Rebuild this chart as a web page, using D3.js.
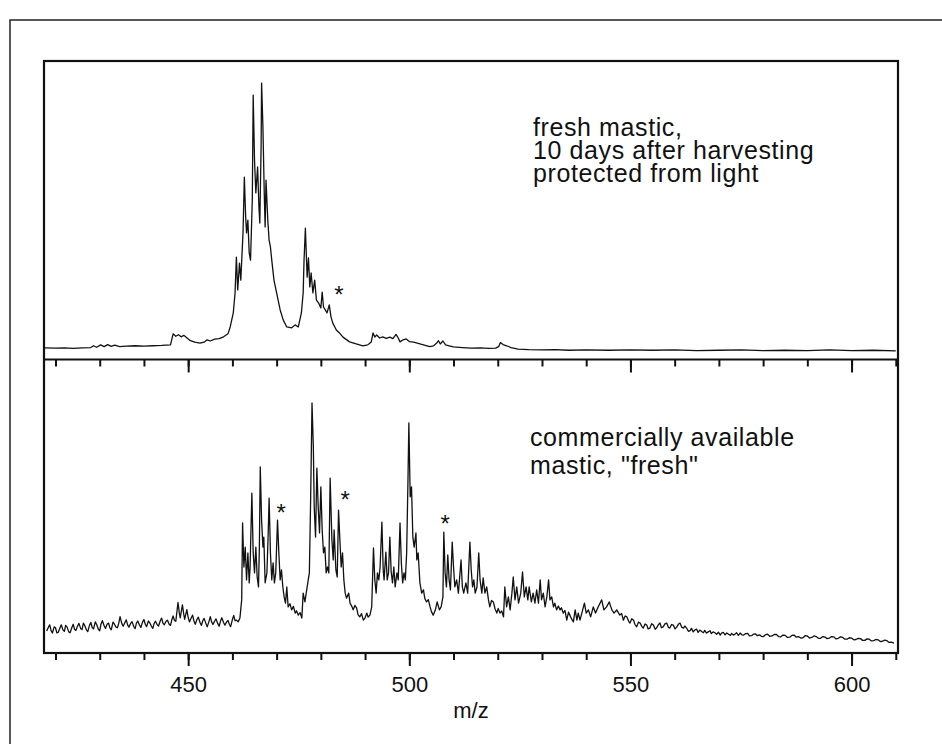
<!DOCTYPE html>
<html>
<head>
<meta charset="utf-8">
<script src="https://cdn.jsdelivr.net/npm/d3@7/dist/d3.min.js"></script>
<style>
    body { margin: 0; background: #fff; }
    text { font-family: "Liberation Sans", Arial, Helvetica, sans-serif; fill: #111; }
</style>
</head>
<body>
<div id="chart"></div>
<script>
// m/z tick positions
let mzTicks = [420, 430, 440, 450, 460, 470, 480, 490, 500, 510, 520, 530, 540, 550, 560, 570, 580, 590, 600, 610];
let mzLabels = [450, 500, 550, 600];

// [m/z, relative intensity], upper trace
let freshSpectrum = [
    [417.6, 3.9], [420, 3.8], [422, 3.9], [424, 3.7], [426, 3.9], [428, 4.0], [428.6, 4.6], [429.3, 4.1], [430.2, 4.9],
    [431, 4.3], [431.8, 5.0], [432.6, 4.4], [433.4, 4.8], [434.5, 4.3], [436, 4.5], [438, 4.6], [440, 4.5], [442, 4.6],
    [444, 4.7], [446, 4.9], [446.6, 8.6], [447.2, 7.8], [447.8, 8.3], [448.4, 7.6], [449, 8.1], [449.6, 7.4], [450.5, 6.3],
    [451.5, 5.8], [452.7, 5.5], [453.6, 5.8], [454.3, 6.6], [455, 6.2], [456, 6.8], [457, 7.0], [458, 7.6], [459, 8.6],
    [459.5, 10.9], [460.2, 15.6], [460.6, 22.3], [460.9, 34.3], [461.2, 23.3], [461.6, 32.3], [461.9, 26.6], [462.4, 42.4],
    [462.7, 61.1], [463.0, 47.7], [463.2, 42.4], [463.5, 46.7], [463.8, 35.7], [464.1, 33.3], [464.5, 53.4], [464.7, 88.6],
    [465.0, 66.8], [465.3, 55.8], [465.7, 64.5], [466.0, 51.1], [466.2, 45.7], [466.5, 72.5], [466.6, 92.6], [466.9, 77.9],
    [467.2, 55.8], [467.4, 44.4], [467.6, 60.1], [468.0, 46.7], [468.3, 40.0], [468.6, 37.7], [468.9, 33.3], [469.4, 26.6],
    [470.0, 22.3], [470.8, 16.6], [471.5, 13.2], [472.3, 10.9], [473.4, 10.6], [474.2, 11.6], [474.9, 10.9], [475.6, 15.6],
    [476.0, 22.3], [476.2, 33.3], [476.5, 44.0], [476.7, 35.7], [476.9, 27.6], [477.2, 34.0], [477.5, 24.3], [477.8, 29.0],
    [478.2, 22.3], [478.6, 26.6], [479.0, 19.9], [479.5, 18.9], [480.0, 17.3], [480.3, 22.6], [480.6, 17.6], [481.0, 16.6],
    [481.4, 15.6], [481.9, 18.3], [482.3, 14.2], [482.7, 12.2], [483.5, 9.9], [484.2, 8.9], [485, 7.5], [486.5, 5.9],
    [488, 5.2], [489.5, 4.6], [490.6, 4.9], [491.4, 5.9], [491.8, 8.9], [492.2, 7.5], [492.6, 8.2], [493.3, 7.2], [494, 7.6],
    [494.8, 7.1], [495.6, 7.5], [496.3, 7.0], [497, 8.4], [497.5, 7.2], [497.9, 5.9], [498.6, 6.6], [499.3, 6.9], [500, 6.0],
    [501, 5.8], [502, 5.4], [503, 5.0], [504.6, 4.3], [505.5, 4.6], [506.2, 5.5], [506.6, 6.3], [507, 5.2], [507.6, 6.2],
    [508.2, 4.9], [509, 4.6], [510, 4.2], [512, 4.0], [514, 3.8], [516, 3.9], [518, 3.7], [519.5, 3.8], [520.2, 4.3],
    [520.6, 5.7], [521.2, 5.0], [522, 4.6], [523, 4.0], [524.6, 3.5], [527, 3.3], [530, 3.2], [533, 3.3], [536, 3.1],
    [540, 3.2], [545, 3.1], [550, 3.2], [555, 3.1], [560, 3.2], [565, 3.0], [570, 3.1], [575, 3.2], [580, 3.0], [585, 3.1],
    [590, 3.0], [595, 3.2], [600, 3.0], [605, 3.1], [610, 2.9]
];

// lower trace
let commercialSpectrum = [
    [418.0, 7.5], [418.4, 8.8], [418.7, 9.6], [419.0, 7.6], [419.3, 6.8], [419.7, 8.9], [420.0, 8.6], [420.3, 6.9],
    [420.6, 7.0], [421.0, 8.5], [421.3, 9.6], [421.7, 7.8], [422.0, 7.4], [422.3, 9.4], [422.6, 8.9], [423.0, 7.2],
    [423.3, 6.9], [423.7, 8.7], [424.0, 9.8], [424.3, 8.1], [424.6, 7.7], [425.0, 9.2], [425.3, 10.1], [425.7, 8.3],
    [426.0, 8.0], [426.3, 10.2], [426.6, 9.4], [427.0, 7.9], [427.3, 7.3], [427.7, 9.5], [428.0, 10.4], [428.3, 8.7],
    [428.6, 8.2], [429.0, 10.6], [429.3, 9.7], [429.7, 8.1], [430.0, 7.6], [430.3, 9.9], [430.6, 11.0], [431.0, 9.3],
    [431.3, 8.4], [431.7, 9.9], [432.0, 10.2], [432.3, 8.6], [432.6, 7.9], [433.0, 10.5], [433.3, 9.9], [433.7, 8.8],
    [434.0, 8.6], [434.3, 10.1], [434.6, 12.4], [435.0, 10.0], [435.3, 9.1], [435.7, 10.4], [436.0, 11.3], [436.3, 9.6],
    [436.6, 8.8], [437.0, 10.1], [437.3, 10.7], [437.7, 9.0], [438.0, 8.3], [438.3, 10.2], [438.6, 10.9], [439.0, 9.5],
    [439.3, 8.7], [439.7, 10.6], [440.0, 11.4], [440.3, 9.8], [440.6, 9.0], [441.0, 10.9], [441.3, 10.3], [441.7, 9.1],
    [442.0, 8.4], [442.3, 10.1], [442.6, 10.8], [443.0, 9.6], [443.3, 9.2], [443.7, 11.0], [444.0, 11.9], [444.3, 10.2],
    [444.6, 9.6], [445.0, 10.8], [445.3, 11.2], [445.7, 9.8], [446.0, 9.4], [446.3, 11.3], [446.6, 12.6], [446.9, 11.1],
    [447.2, 10.8], [447.7, 17.2], [448.0, 13.6], [448.2, 12.0], [448.7, 16.4], [449.0, 13.2], [449.2, 11.5], [449.7, 14.8],
    [450.0, 12.1], [450.3, 10.6], [450.7, 12.0], [451.0, 12.9], [451.3, 10.9], [451.6, 9.8], [452.0, 11.5], [452.3, 12.2],
    [452.7, 10.3], [453.0, 9.4], [453.3, 11.0], [453.6, 11.8], [454.0, 10.1], [454.3, 8.9], [454.7, 10.7], [455.0, 12.4],
    [455.3, 10.6], [455.6, 9.7], [456.0, 10.9], [456.3, 11.6], [456.7, 10.0], [457.0, 9.1], [457.3, 10.8], [457.6, 12.0],
    [458.0, 10.4], [458.3, 9.5], [458.7, 10.6], [459.0, 11.1], [459.3, 9.8], [459.6, 9.0], [460.0, 11.4], [460.3, 12.8],
    [460.6, 11.0], [460.9, 11.2], [461.3, 10.6], [461.7, 11.9],
    [462.1, 18.1], [462.3, 44.3], [462.6, 29.3], [462.9, 36.1], [463.2, 24.9], [463.5, 34.1], [463.8, 23.9], [464.0, 29.3],
    [464.4, 54.5], [464.7, 34.1], [465.0, 27.3], [465.3, 36.1], [465.6, 25.9], [465.9, 22.5], [466.1, 36.1], [466.3, 63.4],
    [466.6, 45.3], [466.9, 36.1], [467.1, 39.5], [467.4, 23.9], [467.8, 27.3], [468.1, 40.9], [468.3, 52.8], [468.6, 34.1],
    [468.9, 24.9], [469.2, 30.7], [469.5, 23.9], [469.8, 27.3], [470.2, 45.3], [470.5, 34.1], [470.8, 24.9], [471.1, 28.3],
    [471.4, 22.5], [471.7, 19.1], [472.0, 17.0], [472.3, 22.5], [472.6, 15.7], [473.0, 16.8], [473.4, 14.7], [473.8, 15.9],
    [474.2, 13.6], [474.5, 14.4], [474.9, 12.9], [475.3, 13.8], [475.7, 11.9], [476.0, 20.4], [476.4, 17.4], [476.8, 21.5],
    [477.4, 27.3], [477.7, 53.2], [478.0, 85.2], [478.3, 70.2],
    [478.5, 49.7], [478.8, 39.5], [479.1, 63.0], [479.4, 49.7], [479.7, 40.9], [480.0, 56.6], [480.3, 41.9], [480.6, 34.1],
    [480.9, 36.1], [481.2, 27.3], [481.5, 29.3], [481.8, 27.3], [482.1, 59.6], [482.5, 38.5], [482.8, 31.7], [483.0, 41.9],
    [483.4, 28.3], [483.7, 25.9], [484.0, 48.7], [484.3, 38.5], [484.6, 29.3], [484.9, 34.1], [485.2, 24.9], [485.5, 20.4],
    [485.8, 18.7], [486.3, 20.4], [486.6, 17.0], [487.0, 15.9], [487.3, 14.7], [487.7, 16.2], [488.1, 15.3], [488.4, 13.1],
    [488.8, 12.3], [489.2, 13.4], [489.6, 11.2], [490.0, 12.0], [490.4, 13.6], [490.7, 12.2], [491.1, 12.9], [491.5, 15.7],
    [491.9, 35.8], [492.2, 24.9], [492.5, 20.4], [492.8, 27.3], [493.1, 24.9], [493.4, 29.3],
    [493.8, 44.6], [494.1, 28.3], [494.3, 24.9], [494.7, 34.4], [495.0, 24.9], [495.3, 27.3], [495.6, 39.5], [495.9, 27.6],
    [496.2, 23.9], [496.5, 29.3], [496.8, 22.5], [497.2, 27.3], [497.5, 24.9], [497.9, 44.3], [498.2, 30.7], [498.5, 23.9],
    [498.8, 27.3], [499.1, 24.9], [499.4, 34.1], [499.7, 58.9], [499.9, 78.4], [500.2, 53.2], [500.5, 56.6], [500.8, 39.5],
    [501.1, 36.1], [501.5, 40.9], [501.7, 31.7], [502.0, 34.1], [502.4, 23.9], [502.8, 20.4], [503.2, 21.5], [503.5, 18.6],
    [503.9, 17.4], [504.3, 18.2], [504.7, 15.7], [505.0, 14.1], [505.4, 12.9], [505.9, 14.7], [506.3, 17.4], [506.8, 14.7],
    [507.2, 15.7], [507.6, 19.1], [507.8, 41.2],
    [508.1, 27.3], [508.4, 22.5], [508.7, 33.4], [509.0, 24.9], [509.3, 21.5], [509.7, 37.8], [510.0, 29.3], [510.3, 22.5],
    [510.7, 24.9], [511.1, 20.4], [511.7, 31.7], [512.0, 22.5], [512.3, 20.4], [512.8, 23.9], [513.2, 20.4], [513.7, 37.8],
    [514.0, 28.3], [514.3, 22.5], [514.6, 24.9], [514.9, 20.4], [515.3, 22.5], [515.7, 34.1], [516.0, 24.9], [516.4, 20.4],
    [516.7, 25.6], [517.1, 20.4], [517.5, 22.5], [517.9, 18.1], [518.2, 15.7], [518.6, 17.9], [519.0, 17.4], [519.4, 15.0],
    [519.8, 13.6], [520.1, 15.2], [520.5, 13.6], [520.9, 14.3],
    [521.3, 12.3], [521.6, 22.5], [522.0, 15.7], [522.4, 19.1], [522.8, 14.7], [523.2, 20.4], [523.5, 25.9], [523.9, 18.1],
    [524.3, 22.5], [524.7, 17.0], [525.2, 20.4], [525.6, 27.6], [526.0, 19.1], [526.4, 22.5], [526.8, 18.1], [527.1, 22.5],
    [527.6, 17.4], [528.0, 20.4], [528.4, 17.0], [528.8, 21.5], [529.2, 17.0], [529.6, 24.9], [529.9, 18.1], [530.3, 20.4],
    [530.7, 15.7], [531.1, 19.1], [531.5, 24.9], [531.8, 18.1], [532.2, 19.1], [532.6, 15.7], [532.9, 17.0], [533.3, 14.7],
    [533.7, 16.0], [534.1, 14.7], [534.4, 15.4], [534.8, 13.6], [535.2, 14.5], [535.6, 11.2], [536.0, 13.9], [536.3, 12.9],
    [536.7, 11.6], [537.1, 10.6], [537.5, 14.7], [537.9, 11.2], [538.2, 13.6],
    [538.6, 11.2], [539.2, 14.7], [539.6, 17.0], [540.0, 13.6], [540.5, 14.7], [541.0, 12.3], [541.6, 15.7], [542.1, 13.6],
    [542.7, 15.7], [543.5, 18.1], [544.0, 14.7], [544.6, 15.7], [545.2, 17.4], [545.8, 14.7], [546.3, 13.6], [546.9, 14.7],
    [547.6, 12.9], [548.0, 13.5], [548.4, 11.2], [548.8, 12.6], [549.2, 12.3], [549.6, 10.8], [549.9, 10.2], [550.3, 11.7],
    [550.7, 11.2], [551.0, 9.8], [551.4, 8.9], [551.8, 10.5], [552.2, 10.2], [552.6, 9.0], [552.9, 8.5], [553.3, 9.9],
    [553.7, 9.5], [554.0, 8.2], [554.4, 8.5], [554.8, 10.0], [555.2, 9.5], [555.6, 8.1], [555.9, 8.5], [556.3, 9.6],
    [556.7, 10.2], [557.0, 8.6], [557.4, 8.9], [557.8, 9.9], [558.2, 10.2], [558.6, 8.7], [558.9, 8.5], [559.3, 9.7],
    [559.7, 9.5], [560.1, 8.2], [560.5, 8.9], [560.9, 9.9], [561.2, 10.2], [561.6, 8.8], [562.0, 8.5], [562.3, 9.2],
    [562.7, 8.5], [563.1, 7.4], [563.5, 7.6], [563.8, 8.4], [564.2, 7.2], [564.6, 7.9], [565.0, 8.1], [565.3, 7.0],
    [565.7, 7.8], [566.1, 7.3], [566.5, 6.9], [566.8, 7.7], [567.2, 6.8], [567.6, 7.2], [568.0, 7.6], [568.3, 6.6],
    [568.7, 7.2], [569.1, 6.9], [569.5, 6.4], [569.9, 7.1], [570.3, 6.1], [570.6, 6.8], [571.0, 7.0], [571.4, 6.2],
    [571.8, 6.8], [572.2, 6.4], [572.6, 6.0], [572.9, 6.7], [573.3, 6.1], [573.7, 6.5], [574.0, 6.9], [574.4, 6.0],
    [574.8, 6.8], [575.2, 6.2], [575.6, 6.1], [576.0, 6.6], [576.5, 6.7], [576.9, 5.8], [577.4, 5.9], [577.8, 6.4],
    [578.3, 6.5], [578.7, 5.9], [579.2, 6.2], [579.6, 5.7], [580.1, 5.6], [580.5, 6.2], [581.0, 6.4], [581.5, 5.7],
    [582.0, 5.8], [582.5, 6.3], [583.0, 6.3], [583.5, 5.6], [584.0, 5.5], [584.5, 6.1], [585.0, 6.0], [585.5, 5.3],
    [586.0, 5.4], [586.5, 6.0], [587.0, 6.1], [587.5, 5.4], [588.0, 5.6], [588.5, 5.1], [589.0, 5.2], [589.5, 5.9],
    [590.0, 5.8], [590.5, 5.1], [591.0, 5.3], [591.5, 5.8], [592.0, 5.6], [592.5, 5.0], [593.0, 5.0], [593.5, 5.6],
    [594.0, 5.4], [594.5, 4.9], [595.0, 5.1], [595.5, 5.6], [596.0, 5.5], [596.5, 4.8], [597.0, 5.0], [597.5, 5.5],
    [598.0, 5.3], [598.5, 4.7], [599.0, 4.7], [599.5, 5.2], [600.0, 5.1], [600.5, 4.5], [601.0, 4.6], [601.5, 5.0],
    [602.0, 4.9], [602.5, 4.3], [603.0, 4.3], [603.5, 4.8], [604.0, 4.7], [604.5, 4.1], [605.0, 4.2], [605.5, 4.6],
    [606.0, 4.5], [606.5, 3.9], [607.0, 4.0], [607.5, 4.4], [608.0, 4.2], [608.5, 3.6], [609.0, 3.7], [609.6, 3.4]
];

// asterisk markers [m/z, intensity]
let freshStars = [[484.1, 23.3]];
let commercialStars = [[471.0, 49.4], [485.5, 53.8], [508.1, 45.7]];

let freshLabel = ["fresh mastic,", "10 days after harvesting", "protected from light"];
let commercialLabel = ["commercially available", "mastic, \"fresh\""];

let width = 942, height = 744;
let plotLeft = 44, plotRight = 898, plotTop = 61, plotMid = 359.5, plotBottom = 653;

let svg = d3.select("#chart")
    .append("svg")
    .attr("width", width)
    .attr("height", height);

// scanned page border
svg.append("path")
    .attr("d", `M10,${height} V20 H${width}`)
    .attr("fill", "none")
    .attr("stroke", "#222")
    .attr("stroke-width", 1.5);

let xScale = d3.scaleLinear().domain([417.4, 610.5]).range([plotLeft, plotRight]);
let yTop = d3.scaleLinear().domain([0, 100]).range([plotMid, plotTop]);
let yBottom = d3.scaleLinear().domain([0, 100]).range([plotBottom, plotMid]);

function drawTrace(data, yScale) {
    let line = d3.line()
        .x(d => xScale(d[0]))
        .y(d => yScale(d[1]));
    svg.append("path")
        .datum(data)
        .attr("d", line)
        .attr("fill", "none")
        .attr("stroke", "#111")
        .attr("stroke-width", 1.3)
        .attr("stroke-linejoin", "round");
}

drawTrace(freshSpectrum, yTop);
drawTrace(commercialSpectrum, yBottom);

// ticks on the middle line and on the bottom axis
function drawTicks(yPos, withLabels) {
    let minor = svg.append("g")
        .attr("transform", `translate(0, ${yPos})`)
        .call(d3.axisBottom(xScale).tickValues(mzTicks).tickSize(7).tickFormat(""));
    minor.select(".domain").remove();

    let major = svg.append("g")
        .attr("transform", `translate(0, ${yPos})`)
        .call(d3.axisBottom(xScale).tickValues(mzLabels).tickSize(13).tickPadding(10)
            .tickFormat(withLabels ? d3.format("d") : ""));
    major.select(".domain").remove();
    major.selectAll("text")
        .style("font-size", "22px")
        .style("font-family", "'Liberation Sans', Arial, sans-serif")
        .attr("fill", "#111");

    svg.selectAll(".tick line").attr("stroke", "#111").attr("stroke-width", 2);
}

drawTicks(plotMid, false);
drawTicks(plotBottom, true);

// frame
svg.append("rect")
    .attr("x", plotLeft)
    .attr("y", plotTop)
    .attr("width", plotRight - plotLeft)
    .attr("height", plotBottom - plotTop)
    .attr("fill", "none")
    .attr("stroke", "#111")
    .attr("stroke-width", 2.2);

svg.append("line")
    .attr("x1", plotLeft)
    .attr("x2", plotRight)
    .attr("y1", plotMid)
    .attr("y2", plotMid)
    .attr("stroke", "#111")
    .attr("stroke-width", 2.2);

// x axis label
svg.append("text")
    .attr("text-anchor", "middle")
    .attr("x", (plotLeft + plotRight) / 2)
    .attr("y", 718)
    .style("font-size", "22px")
    .text("m/z");

// asterisks
function drawStars(stars, yScale) {
    svg.selectAll(null)
        .data(stars)
        .enter()
        .append("text")
        .attr("text-anchor", "middle")
        .attr("x", d => xScale(d[0]))
        .attr("y", d => yScale(d[1]) + 13)
        .style("font-size", "24px")
        .text("*");
}

drawStars(freshStars, yTop);
drawStars(commercialStars, yBottom);

// panel captions
function drawCaption(lines, x, y, lineHeight) {
    let caption = svg.append("text")
        .attr("x", x)
        .attr("y", y)
        .style("font-size", "25px")
        .style("letter-spacing", "0.6px");
    caption.selectAll("tspan")
        .data(lines)
        .enter()
        .append("tspan")
        .attr("x", x)
        .attr("dy", (d, i) => i === 0 ? 0 : lineHeight)
        .text(d => d);
}

drawCaption(freshLabel, 533, 136, 23);
drawCaption(commercialLabel, 530, 446, 28);
</script>
</body>
</html>
